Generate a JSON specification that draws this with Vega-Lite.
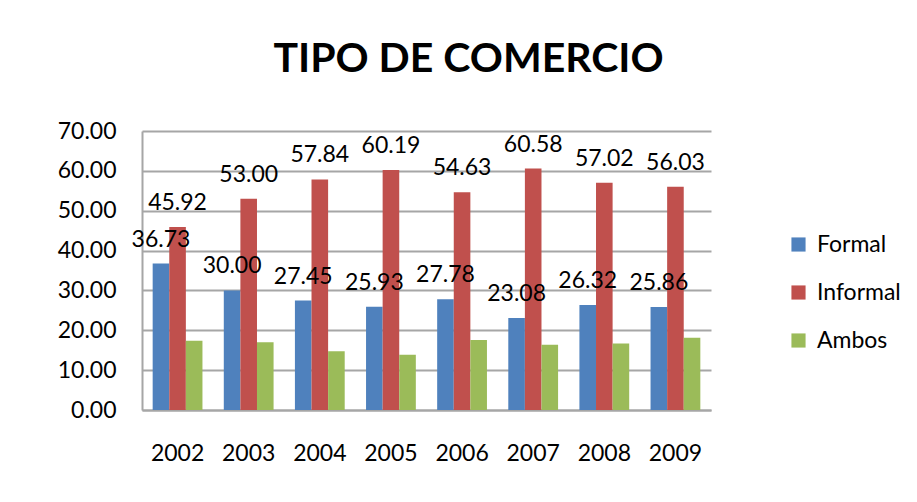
{
  "$schema": "https://vega.github.io/schema/vega-lite/v6.json",
  "width": 569,
  "height": 279,
  "autosize": {"type": "none"},
  "padding": {"left": 142, "top": 131, "right": 206, "bottom": 92},
  "background": "white",
  "title": {
    "text": "TIPO DE COMERCIO",
    "fontSize": 41,
    "font": "Lato",
    "fontWeight": "bold",
    "color": "#000000",
    "anchor": "middle",
    "dx": 42,
    "offset": 39
  },
  "data": {
    "values": [
      {"anio": "2002", "tipo": "Formal", "valor": 36.73},
      {"anio": "2002", "tipo": "Informal", "valor": 45.92},
      {"anio": "2002", "tipo": "Ambos", "valor": 17.35},
      {"anio": "2003", "tipo": "Formal", "valor": 30.00},
      {"anio": "2003", "tipo": "Informal", "valor": 53.00},
      {"anio": "2003", "tipo": "Ambos", "valor": 17.00},
      {"anio": "2004", "tipo": "Formal", "valor": 27.45},
      {"anio": "2004", "tipo": "Informal", "valor": 57.84},
      {"anio": "2004", "tipo": "Ambos", "valor": 14.71},
      {"anio": "2005", "tipo": "Formal", "valor": 25.93},
      {"anio": "2005", "tipo": "Informal", "valor": 60.19},
      {"anio": "2005", "tipo": "Ambos", "valor": 13.88},
      {"anio": "2006", "tipo": "Formal", "valor": 27.78},
      {"anio": "2006", "tipo": "Informal", "valor": 54.63},
      {"anio": "2006", "tipo": "Ambos", "valor": 17.59},
      {"anio": "2007", "tipo": "Formal", "valor": 23.08},
      {"anio": "2007", "tipo": "Informal", "valor": 60.58},
      {"anio": "2007", "tipo": "Ambos", "valor": 16.34},
      {"anio": "2008", "tipo": "Formal", "valor": 26.32},
      {"anio": "2008", "tipo": "Informal", "valor": 57.02},
      {"anio": "2008", "tipo": "Ambos", "valor": 16.66},
      {"anio": "2009", "tipo": "Formal", "valor": 25.86},
      {"anio": "2009", "tipo": "Informal", "valor": 56.03},
      {"anio": "2009", "tipo": "Ambos", "valor": 18.11}
    ]
  },
  "encoding": {
    "x": {
      "field": "anio",
      "type": "nominal",
      "title": null,
      "scale": {"paddingInner": 0.3, "paddingOuter": 0.15},
      "axis": {
        "labelAngle": 0,
        "labelFont": "Lato",
        "labelFontSize": 23,
        "labelColor": "#000000",
        "labelPadding": 32,
        "ticks": false,
        "domain": true,
        "domainColor": "#a6a6a6",
        "domainWidth": 2
      }
    },
    "xOffset": {"field": "tipo", "type": "nominal", "sort": ["Formal", "Informal", "Ambos"]},
    "y": {
      "field": "valor",
      "type": "quantitative",
      "title": null,
      "scale": {"domain": [0, 70]},
      "axis": {
        "values": [0, 10, 20, 30, 40, 50, 60, 70],
        "format": ".2f",
        "labelFont": "Lato",
        "labelFontSize": 23,
        "labelColor": "#000000",
        "labelPadding": 26,
        "ticks": false,
        "domainColor": "#a6a6a6",
        "domainWidth": 2,
        "grid": true,
        "gridColor": "#a6a6a6",
        "gridWidth": 2
      }
    }
  },
  "layer": [
    {
      "mark": {"type": "bar", "stroke": null},
      "encoding": {
        "color": {
          "field": "tipo",
          "type": "nominal",
          "sort": ["Formal", "Informal", "Ambos"],
          "scale": {"domain": ["Formal", "Informal", "Ambos"], "range": ["#4F81BD", "#C0504D", "#9BBB59"]},
          "legend": {
            "title": null,
            "orient": "none",
            "legendX": 645,
            "legendY": 102,
            "symbolType": "square",
            "symbolSize": 200,
            "symbolStrokeWidth": 0,
            "labelFont": "Lato",
            "labelFontSize": 23,
            "labelColor": "#000000",
            "rowPadding": 24,
            "labelOffset": 7
          }
        }
      }
    },
    {
      "transform": [{"filter": "datum.tipo !== 'Ambos'"}],
      "mark": {"type": "text", "font": "Lato", "fontSize": 23, "color": "#000000", "baseline": "alphabetic", "dy": -17},
      "encoding": {
        "text": {"field": "valor", "type": "quantitative", "format": ".2f"}
      }
    }
  ],
  "config": {
    "view": {"stroke": null}
  }
}
